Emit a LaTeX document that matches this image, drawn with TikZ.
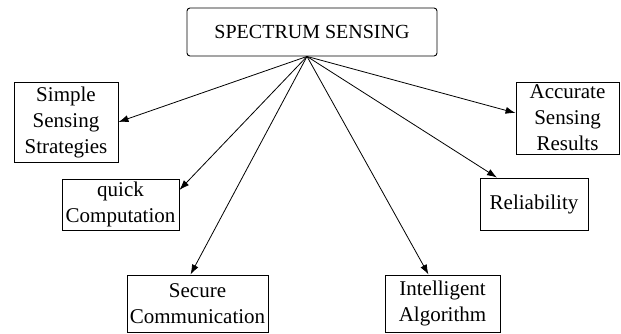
\documentclass[tikz,border=0pt]{standalone}
\usepackage{fontspec}
\setmainfont{Liberation Serif}
\usetikzlibrary{arrows.meta,calc}
\begin{document}
\begin{tikzpicture}[x=1pt,y=-1pt,
  box/.style={draw=black, line width=0.9pt, inner sep=0pt, align=center,
    font=\fontsize{21}{26}\selectfont},
  link/.style={draw=black, line width=0.8pt, -{Latex[length=10pt,width=7pt]}}]
\useasboundingbox (0,0) rectangle (621,334);
% central topic
\node[box, rounded corners=3pt, minimum width=250pt, minimum height=48pt,
  font=\fontsize{20}{24}\selectfont] (top) at (312,32) {SPECTRUM SENSING};
\coordinate (hub) at ([xshift=-5pt]top.south);
% requirements
\node[box, minimum width=104pt, minimum height=80pt] (ss) at (66,122) {Simple\\Sensing\\Strategies};
\node[box, minimum width=117pt, minimum height=51pt] (qc) at (120.5,204.5) {quick\\Computation};
\node[box, minimum width=141pt, minimum height=57pt] (sc) at (197.5,303.5) {Secure\\Communication};
\node[box, minimum width=115pt, minimum height=57pt] (ia) at (442.5,303.5) {Intelligent\\Algorithm};
\node[box, minimum width=108pt, minimum height=52pt] (rel) at (534,204) {Reliability};
\node[box, minimum width=103pt, minimum height=72pt] (acc) at (567.5,118) {Accurate\\Sensing\\Results};
% connectors
\draw[link] (hub) -- (ss.east);
\draw[link] (hub) -- ($(qc.north east)!0.22!(qc.south east)$);
\draw[link] (hub) -- ([xshift=-7pt]sc.north);
\draw[link] (hub) -- ([xshift=-14pt]ia.north);
\draw[link] (hub) -- ($(rel.north west)!0.16!(rel.north east)$);
\draw[link] (hub) -- ([yshift=5pt]acc.west);
\end{tikzpicture}
\end{document}
